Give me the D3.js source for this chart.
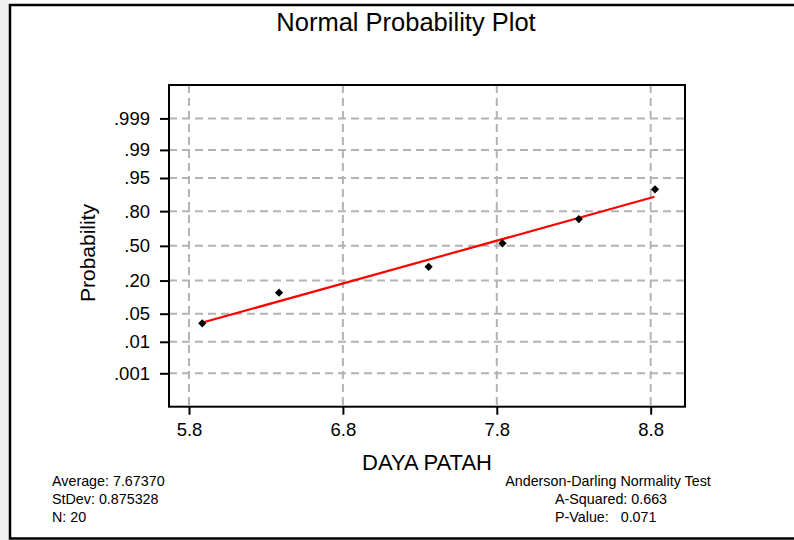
<!DOCTYPE html>
<html>
<head>
<meta charset="utf-8">
<script src="https://cdn.jsdelivr.net/npm/d3@7"></script>
<style>
  html, body { margin: 0; padding: 0; background: #ffffff; }
  svg { display: block; font-family: "Liberation Sans", Arial, sans-serif; }
  text { white-space: pre; }
</style>
</head>
<body>
<svg id="chart" width="794" height="540"></svg>
<script>
// Observed values (DAYA PATAH) and their plotted cumulative probabilities
const dayaPatah = [5.886, 6.385, 7.357, 7.837, 8.333, 8.828];
const probability = [0.0302, 0.128, 0.306, 0.525, 0.742, 0.915];

// Fitted normal line, given by its two end points
const fitX = [5.871, 8.825];
const fitP = [0.0302, 0.883];

// Axis ticks
const xTicks = [5.8, 6.8, 7.8, 8.8];
const xTickLabels = ["5.8", "6.8", "7.8", "8.8"];
const yTicks = [0.001, 0.01, 0.05, 0.20, 0.50, 0.80, 0.95, 0.99, 0.999];
const yTickLabels = [".001", ".01", ".05", ".20", ".50", ".80", ".95", ".99", ".999"];

// Summary statistics
const statsLeft = ["Average: 7.67370", "StDev: 0.875328", "N: 20"];
const statsRight = ["A-Squared: 0.663", "P-Value:   0.071"];

// Inverse standard normal CDF (Acklam's rational approximation)
function normInv(p) {
  const a = [-3.969683028665376e+01, 2.209460984245205e+02, -2.759285104469687e+02,
             1.383577518672690e+02, -3.066479806614716e+01, 2.506628277459239e+00];
  const b = [-5.447609879822406e+01, 1.615858368580409e+02, -1.556989798598866e+02,
             6.680131188771972e+01, -1.328068155288572e+01];
  const c = [-7.784894002430293e-03, -3.223964580411365e-01, -2.400758277161838e+00,
             -2.549671010243087e+00, 4.374664141464968e+00, 2.938163982698783e+00];
  const d = [7.784695709041462e-03, 3.224671290700398e-01, 2.445134137142996e+00,
             3.754408661907416e+00];
  const pl = 0.02425, ph = 1 - pl;
  let q, r;
  if (p < pl) {
    q = Math.sqrt(-2 * Math.log(p));
    return (((((c[0]*q+c[1])*q+c[2])*q+c[3])*q+c[4])*q+c[5]) /
           ((((d[0]*q+d[1])*q+d[2])*q+d[3])*q+1);
  }
  if (p <= ph) {
    q = p - 0.5; r = q * q;
    return (((((a[0]*r+a[1])*r+a[2])*r+a[3])*r+a[4])*r+a[5])*q /
           (((((b[0]*r+b[1])*r+b[2])*r+b[3])*r+b[4])*r+1);
  }
  q = Math.sqrt(-2 * Math.log(1 - p));
  return -(((((c[0]*q+c[1])*q+c[2])*q+c[3])*q+c[4])*q+c[5]) /
          ((((d[0]*q+d[1])*q+d[2])*q+d[3])*q+1);
}

const svg = d3.select("#chart");

// Plot region
const plotLeft = 169, plotRight = 685, plotTop = 85, plotBottom = 406.7;

const x = d3.scaleLinear().domain([5.67, 9.023]).range([plotLeft, plotRight]);
const zScale = d3.scaleLinear().domain([-3.9, 3.9]).range([plotBottom, plotTop]);
const y = p => zScale(normInv(p));

// Soft grey strip at the far left margin
svg.append("rect").attr("x", 0).attr("y", 0).attr("width", 9).attr("height", 540)
  .attr("fill", "#efefef");

// Outer border
svg.append("path")
  .attr("d", "M794,5 H10 V538.5 H794")
  .attr("fill", "none").attr("stroke", "#000").attr("stroke-width", 2.5);

// Title
svg.append("text")
  .attr("x", 406).attr("y", 31)
  .attr("text-anchor", "middle")
  .attr("font-size", 25.5)
  .attr("fill", "#000")
  .text("Normal Probability Plot");

// Grid lines
const grid = svg.append("g")
  .attr("stroke", "#b3b3b3").attr("stroke-width", 2).attr("stroke-dasharray", "8,5");
grid.selectAll("line.h").data(yTicks).enter().append("line")
  .attr("x1", plotLeft).attr("x2", plotRight)
  .attr("y1", d => y(d)).attr("y2", d => y(d));
grid.selectAll("line.v").data(xTicks).enter().append("line")
  .attr("y1", plotTop).attr("y2", plotBottom)
  .attr("x1", d => x(d)).attr("x2", d => x(d));

// X axis
const xAxis = d3.axisBottom(x)
  .tickValues(xTicks)
  .tickFormat((d, i) => xTickLabels[i])
  .tickSize(8).tickPadding(8);
const gx = svg.append("g").attr("transform", `translate(0,${plotBottom})`).call(xAxis);
gx.select(".domain").remove();
gx.selectAll(".tick line").attr("stroke", "#000").attr("stroke-width", 2);
gx.selectAll(".tick text").attr("font-size", 18.5).attr("font-family", "Liberation Sans, Arial, sans-serif")
  .attr("fill", "#000");

// Y axis (normal probability scale)
const yAxis = d3.axisLeft(zScale)
  .tickValues(yTicks.map(normInv))
  .tickFormat((d, i) => yTickLabels[i])
  .tickSize(9).tickPadding(10);
const gy = svg.append("g").attr("transform", `translate(${plotLeft},0)`).call(yAxis);
gy.select(".domain").remove();
gy.selectAll(".tick line").attr("stroke", "#000").attr("stroke-width", 2);
gy.selectAll(".tick text").attr("font-size", 18.5).attr("font-family", "Liberation Sans, Arial, sans-serif")
  .attr("fill", "#000");

// Plot frame
svg.append("rect")
  .attr("x", plotLeft).attr("y", plotTop)
  .attr("width", plotRight - plotLeft).attr("height", plotBottom - plotTop)
  .attr("fill", "none").attr("stroke", "#000").attr("stroke-width", 2);

// Fitted line
const line = d3.line().x(d => x(d[0])).y(d => y(d[1]));
svg.append("path")
  .datum(d3.zip(fitX, fitP))
  .attr("d", line)
  .attr("fill", "none").attr("stroke", "#ff0000").attr("stroke-width", 2.2);

// Data points (square diamonds)
const marker = d3.symbol().type(d3.symbolSquare).size(34);
svg.append("g").selectAll("path")
  .data(d3.zip(dayaPatah, probability))
  .enter().append("path")
  .attr("d", marker)
  .attr("transform", d => `translate(${x(d[0])},${y(d[1])}) rotate(45)`)
  .attr("fill", "#000");

// Axis titles
svg.append("text")
  .attr("x", (plotLeft + plotRight) / 2).attr("y", 470)
  .attr("text-anchor", "middle").attr("font-size", 22).attr("fill", "#000")
  .text("DAYA PATAH");

svg.append("text")
  .attr("transform", "translate(95,253) rotate(-90)")
  .attr("text-anchor", "middle").attr("font-size", 21).attr("fill", "#000")
  .text("Probability");

// Summary statistics
svg.append("g").selectAll("text").data(statsLeft).enter().append("text")
  .attr("x", 52).attr("y", (d, i) => 486 + i * 18)
  .attr("font-size", 14.3).attr("fill", "#000")
  .text(d => d);

svg.append("text")
  .attr("x", 608).attr("y", 486)
  .attr("text-anchor", "middle").attr("font-size", 14.3).attr("fill", "#000")
  .text("Anderson-Darling Normality Test");

svg.append("g").selectAll("text").data(statsRight).enter().append("text")
  .attr("x", 555).attr("y", (d, i) => 504 + i * 18)
  .attr("font-size", 14.3).attr("fill", "#000")
  .text(d => d);
</script>
</body>
</html>
